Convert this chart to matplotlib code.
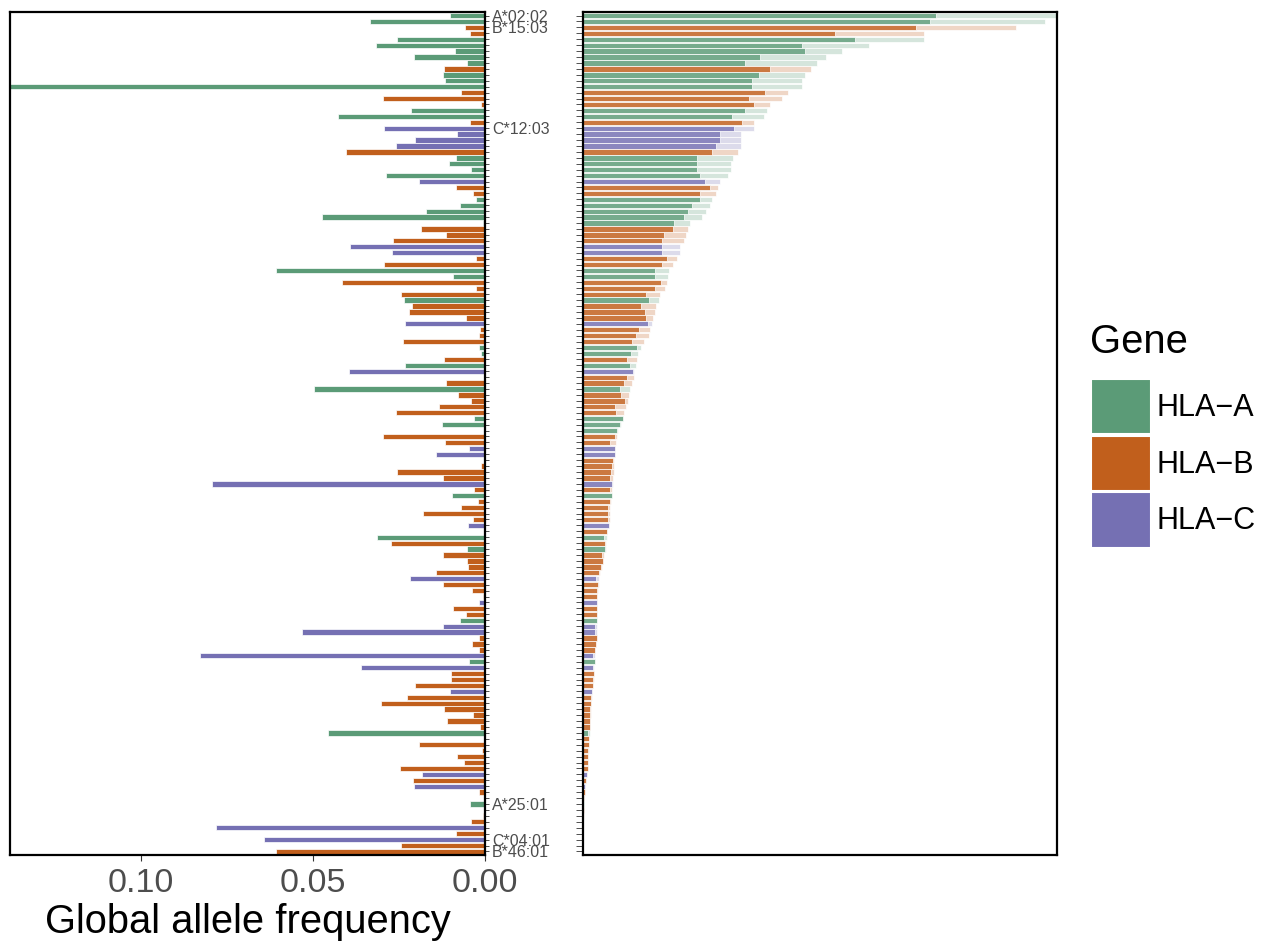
import matplotlib
matplotlib.use('Agg')
import matplotlib.pyplot as plt
from matplotlib.patches import Patch
from matplotlib.colors import to_rgba
import numpy as np

plt.rcParams['font.family'] = ['Liberation Sans', 'DejaVu Sans']

# gene of each allele, top to bottom (sorted by cohort total)
genes = list("AABBAAAAAB" "AAABBBAABC" "CCCBAAAACB" "BAAAAABBBC" "CBBAABBBAB"
             "BBCBBBAABA" "CBBABBBBAA" "ABBCCBBBBC" "BABBBBCBAB" "ABBBBCBBBC"
             "BBACCBBBCA" "CBBBCBBBBB" "BABBBBBBCB" "CBBABBBCBC" "BB")

# left panel: global allele frequency
global_freq = [
    0.0101, 0.0333, 0.0057, 0.0044, 0.0256, 0.0316, 0.0086, 0.0205, 0.0052, 0.0118,
    0.0121, 0.0117, 0.1400, 0.0070, 0.0297, 0.0012, 0.0215, 0.0427, 0.0043, 0.0293,
    0.0082, 0.0202, 0.0260, 0.0405, 0.0084, 0.0104, 0.0041, 0.0289, 0.0192, 0.0084,
    0.0034, 0.0027, 0.0072, 0.0172, 0.0475, 0.0007, 0.0186, 0.0112, 0.0268, 0.0391,
    0.0271, 0.0026, 0.0293, 0.0607, 0.0093, 0.0416, 0.0026, 0.0245, 0.0236, 0.0212,
    0.0220, 0.0055, 0.0231, 0.0014, 0.0016, 0.0238, 0.0016, 0.0012, 0.0118, 0.0231,
    0.0394, 0.0000, 0.0112, 0.0496, 0.0079, 0.0041, 0.0133, 0.0260, 0.0031, 0.0126,
    0.0000, 0.0297, 0.0117, 0.0046, 0.0142, 0.0000, 0.0012, 0.0257, 0.0123, 0.0792,
    0.0033, 0.0096, 0.0021, 0.0070, 0.0179, 0.0034, 0.0050, 0.0000, 0.0313, 0.0272,
    0.0052, 0.0122, 0.0053, 0.0048, 0.0141, 0.0219, 0.0123, 0.0039, 0.0005, 0.0016,
    0.0092, 0.0056, 0.0074, 0.0122, 0.0531, 0.0018, 0.0039, 0.0018, 0.0828, 0.0046,
    0.0360, 0.0100, 0.0100, 0.0203, 0.0101, 0.0228, 0.0301, 0.0118, 0.0036, 0.0109,
    0.0015, 0.0456, 0.0000, 0.0193, 0.0010, 0.0081, 0.0060, 0.0246, 0.0183, 0.0208,
    0.0206, 0.0018, 0.0000, 0.0043, 0.0003, 0.0007, 0.0042, 0.0781, 0.0084, 0.0642,
    0.0243, 0.0607,
]

# right panel: cohort value (dark) and total (light)
cohort_freq = [
    74.4, 73.2, 70.2, 53.2, 57.4, 46.1, 46.9, 37.3, 34.2, 39.5,
    37.2, 35.7, 35.7, 38.5, 35.0, 36.1, 34.2, 31.5, 33.5, 31.9,
    28.9, 28.8, 28.1, 27.2, 24.1, 24.1, 24.1, 24.7, 25.7, 26.8,
    24.7, 24.7, 23.0, 22.2, 21.3, 19.3, 18.9, 17.1, 16.6, 16.6,
    16.6, 17.8, 16.7, 15.2, 15.2, 16.4, 15.2, 13.3, 14.0, 12.2,
    13.1, 13.2, 13.8, 11.9, 11.2, 10.3, 11.3, 10.1, 9.3, 9.9,
    10.5, 9.3, 8.6, 7.8, 8.0, 8.9, 6.8, 6.9, 8.5, 7.8,
    7.1, 6.8, 5.7, 6.7, 6.7, 6.3, 6.2, 5.9, 5.8, 6.2,
    5.8, 6.1, 5.7, 5.3, 5.3, 5.2, 5.5, 5.0, 4.4, 4.7,
    4.7, 4.0, 4.2, 3.9, 3.4, 2.7, 3.2, 3.0, 3.0, 2.9,
    2.9, 2.9, 2.9, 2.5, 2.5, 2.9, 2.7, 2.5, 2.2, 2.5,
    2.2, 2.3, 2.2, 2.2, 1.8, 1.7, 1.6, 1.5, 1.5, 1.5,
    1.5, 1.1, 1.3, 1.2, 1.1, 1.05, 1.05, 1.0, 0.8, 0.6,
    0.4, 0.36, 0.28, 0.2, 0.15, 0.1, 0.05, 0.04, 0.03, 0.02,
    0.01, 0.0,
]
cohort_total = [
    99.9, 97.5, 91.4, 71.9, 71.9, 60.4, 54.7, 51.3, 49.3, 48.2,
    46.8, 46.1, 46.1, 43.2, 41.9, 39.5, 38.9, 38.2, 36.1, 36.0,
    33.3, 33.3, 33.3, 32.6, 31.6, 31.2, 31.2, 30.6, 28.9, 28.5,
    28.1, 27.2, 26.8, 25.9, 25.1, 22.6, 22.2, 21.7, 21.3, 20.5,
    20.5, 19.8, 18.9, 18.2, 18.0, 17.8, 17.3, 16.2, 16.1, 15.3,
    15.2, 14.7, 14.6, 14.1, 13.9, 12.9, 12.2, 11.5, 11.3, 11.2,
    10.8, 10.7, 10.4, 9.9, 9.6, 9.4, 9.0, 8.7, 8.5, 8.0,
    7.3, 7.1, 6.9, 6.8, 6.8, 6.6, 6.6, 6.5, 6.4, 6.4,
    6.2, 6.1, 5.9, 5.8, 5.7, 5.6, 5.5, 5.1, 5.0, 4.8,
    4.8, 4.5, 4.3, 4.0, 3.6, 3.4, 3.3, 3.1, 3.0, 2.95,
    2.95, 2.9, 2.9, 2.9, 2.9, 2.9, 2.8, 2.6, 2.6, 2.5,
    2.4, 2.3, 2.3, 2.2, 1.9, 1.8, 1.7, 1.6, 1.6, 1.5,
    1.5, 1.4, 1.35, 1.3, 1.2, 1.1, 1.1, 1.0, 0.9, 0.7,
    0.45, 0.4, 0.3, 0.25, 0.2, 0.15, 0.1, 0.08, 0.06, 0.04,
    0.02, 0.01,
]

label_rows = [0, 2, 19, 133, 139, 141]
label_names = ['A*02:02', 'B*15:03', 'C*12:03', 'A*25:01', 'C*04:01', 'B*46:01']

gene_names = {'A': 'HLA\u2212A', 'B': 'HLA\u2212B', 'C': 'HLA\u2212C'}
gene_colors = {'A': '#5B9B77', 'B': '#C15F1C', 'C': '#7570B3'}

n = len(genes)
y = np.arange(n)
cols = [gene_colors[g] for g in genes]
W, H = 1285, 941

fig = plt.figure(figsize=(W / 100, H / 100), dpi=100)
ax1 = fig.add_axes([10 / W, 1 - 855 / H, 475 / W, 843 / H])
ax2 = fig.add_axes([583 / W, 1 - 855 / H, 474 / W, 843 / H])

# linker Teil: globale Frequenz
ax1.barh(y, global_freq, height=0.9, color=cols, edgecolor='white', linewidth=0.5)
ax1.set_xlim(0.138, 0)
ax1.set_ylim(n - 0.4, -0.6)
ax1.yaxis.tick_right()
ax1.set_yticks(y)
ticklabels = [''] * n
for r, name in zip(label_rows, label_names):
    ticklabels[r] = name
ax1.set_yticklabels(ticklabels)
ax1.tick_params(axis='y', length=3, width=0.6, color='#333333',
                labelsize=11.5, labelcolor='#4D4D4D', pad=2)
ax1.set_xticks([0.10, 0.05, 0.0])
ax1.set_xticklabels(['0.10', '0.05', '0.00'])
ax1.tick_params(axis='x', length=4, width=0.8, color='#333333',
                labelsize=24.5, labelcolor='#4D4D4D', pad=5)
ax1.set_xlabel('Global allele frequency', fontsize=28.7, labelpad=3)

# rechter Teil: Kohorte
light = [to_rgba(c, 0.25) for c in cols]
dark = [to_rgba(c, 0.78) for c in cols]
ax2.barh(y, cohort_total, height=0.9, color=light, edgecolor='white', linewidth=0.5)
ax2.barh(y, cohort_freq, height=0.9, color=dark, edgecolor='white', linewidth=0.5)
ax2.set_xlim(0, 100)
ax2.set_ylim(n - 0.4, -0.6)
ax2.set_yticks(y)
ax2.set_yticklabels([])
ax2.set_xticks([])
ax2.tick_params(axis='y', length=5, width=0.6, color='#333333')

for ax in (ax1, ax2):
    for s in ax.spines.values():
        s.set_linewidth(1.6)
        s.set_color('black')

# Legende
fig.text(1090 / W, 1 - 342 / H, 'Gene', fontsize=28.8, va='center', ha='left')
handles = [Patch(facecolor=gene_colors[g], edgecolor='white', linewidth=1.5,
                 label=gene_names[g]) for g in ['A', 'B', 'C']]
fig.legend(handles=handles, loc='upper left',
           bbox_to_anchor=(1091 / W, 1 - 379 / H), frameon=False,
           fontsize=22, handlelength=1.95, handleheight=2.4,
           labelspacing=0.05, handletextpad=0.2, borderpad=0, borderaxespad=0)

fig.savefig('out.png', dpi=100)
